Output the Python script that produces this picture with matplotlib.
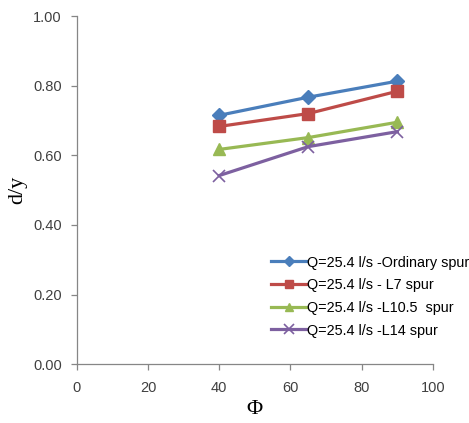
import numpy as np
import matplotlib
matplotlib.use("Agg")
import matplotlib.pyplot as plt

plt.rcParams['font.family'] = ['Liberation Sans', 'DejaVu Sans']

# 角度 Φ
phi = [40, 65, 90]

# d/y 各方案
ordinary = [0.715, 0.767, 0.813]
l7 = [0.683, 0.720, 0.784]
l105 = [0.617, 0.651, 0.695]
l14 = [0.542, 0.625, 0.668]

labels = ['Q=25.4 l/s -Ordinary spur', 'Q=25.4 l/s - L7 spur',
          'Q=25.4 l/s -L10.5  spur', 'Q=25.4 l/s -L14 spur']

fig = plt.figure(figsize=(4.69, 4.23), dpi=100)
ax = fig.add_axes([0.164, 0.139, 0.759, 0.823])

ax.plot(phi, ordinary, color='#4A7EBB', lw=2.3, marker='D', ms=7, label=labels[0])
ax.plot(phi, l7, color='#BE4B48', lw=2.3, marker='s', ms=8, label=labels[1])
ax.plot(phi, l105, color='#98B954', lw=2.3, marker='^', ms=8.5, label=labels[2])
ax.plot(phi, l14, color='#7D60A0', lw=2.3, marker='x', ms=9, mew=1.2, label=labels[3])

ax.set_xlim(0, 100)
ax.set_ylim(0, 1.0)
ax.set_xticks(np.arange(0, 101, 20))
ax.set_yticks(np.arange(0, 1.01, 0.2))
ax.set_yticklabels(['%.2f' % v for v in np.arange(0, 1.01, 0.2)])

for s in ['top', 'right']:
    ax.spines[s].set_visible(False)
for s in ['left', 'bottom']:
    ax.spines[s].set_color('#868686')
    ax.spines[s].set_linewidth(0.9)
ax.tick_params(colors='#868686', labelcolor='#404040', labelsize=10.5, length=4, width=0.9)
ax.tick_params(axis='x', pad=8)
ax.tick_params(axis='y', pad=7)

ax.set_xlabel('Φ', family='Liberation Serif', fontsize=16, labelpad=4)
ax.set_ylabel('d/y', family='Liberation Serif', fontsize=16, labelpad=4)

ax.legend(loc='lower left', bbox_to_anchor=(0.53, 0.06), frameon=False,
          fontsize=10.4, handlelength=2.4, handletextpad=0.1, labelspacing=0.6,
          borderaxespad=0, markerscale=0.75)

plt.savefig('out.png', dpi=100)
